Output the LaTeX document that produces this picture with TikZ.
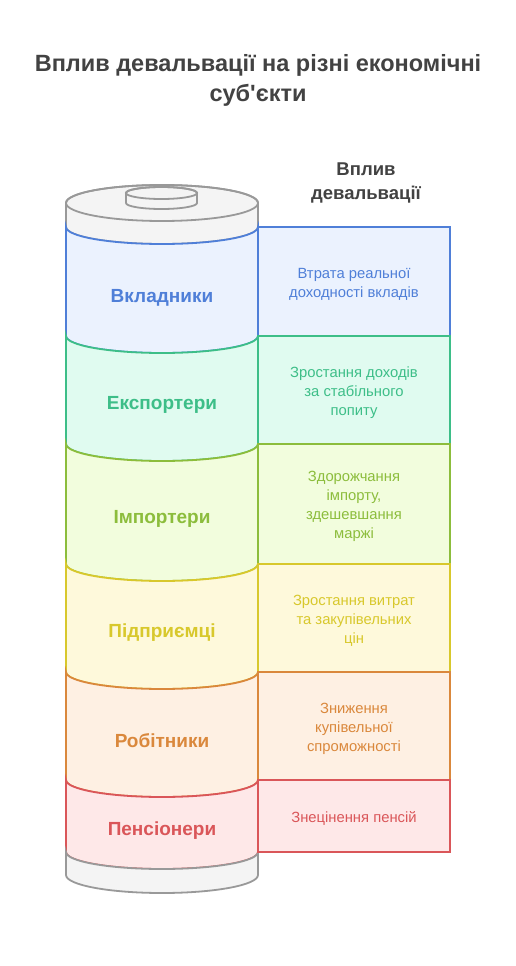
\documentclass[tikz,border=0pt]{standalone}
\usepackage{fontspec}
\setmainfont{Liberation Sans}
\definecolor{cBlueS}{HTML}{4F7FD8}
\definecolor{cBlueF}{HTML}{EBF2FE}
\definecolor{cGreenS}{HTML}{3DBE88}
\definecolor{cGreenF}{HTML}{E0FBF0}
\definecolor{cLimeS}{HTML}{8CBD3C}
\definecolor{cLimeF}{HTML}{F2FDDD}
\definecolor{cYelS}{HTML}{D8C82C}
\definecolor{cYelF}{HTML}{FEF9DB}
\definecolor{cOrS}{HTML}{DA883C}
\definecolor{cOrF}{HTML}{FEF0E3}
\definecolor{cRedS}{HTML}{DA5659}
\definecolor{cRedF}{HTML}{FEE8E8}
\definecolor{cGreyS}{HTML}{999999}
\definecolor{cGreyF}{HTML}{F4F4F4}
\definecolor{cTitle}{HTML}{424242}
\tikzset{
  band/.style={line width=1.8pt},
  boxtext/.style={align=center,font=\fontsize{14.8}{19}\selectfont},
  bandlabel/.style={font=\fontsize{19}{22}\selectfont\bfseries},
}
\newcommand{\cylband}[4]{% top, bottom, stroke, fill
  \filldraw[band,draw=#3,fill=#4] (66,-#1) -- (66,-#2)
    arc[start angle=180,end angle=360,x radius=96,y radius=17]
    -- (258,-#1)
    arc[start angle=0,end angle=-180,x radius=96,y radius=17] -- cycle;
}
\begin{document}
\begin{tikzpicture}[x=1pt,y=1pt]
\useasboundingbox[fill=white] (0,0) rectangle (516,-966);
% title
\node[align=center,text=cTitle,font=\fontsize{23.5}{30}\selectfont\bfseries] (title) at (258,-80)
  {Вплив девальвації на різні економічні\\суб\textquotesingle єкти};
\node[align=center,text=cTitle,font=\fontsize{18.5}{24}\selectfont\bfseries] (head) at (366,-183)
  {Вплив\\девальвації};
% top grey cap
\filldraw[band,draw=cGreyS,fill=cGreyF] (66,-203) -- (66,-227)
  arc[start angle=180,end angle=360,x radius=96,y radius=17]
  -- (258,-203)
  arc[start angle=0,end angle=180,x radius=96,y radius=18] -- cycle;
\draw[band,draw=cGreyS] (162,-203) ellipse[x radius=96,y radius=18];
% small cap
\filldraw[band,draw=cGreyS,fill=cGreyF] (126,-193) -- (126,-203)
  arc[start angle=180,end angle=360,x radius=35.5,y radius=6]
  -- (197,-193)
  arc[start angle=0,end angle=180,x radius=35.5,y radius=6] -- cycle;
\draw[band,draw=cGreyS] (161.5,-193) ellipse[x radius=35.5,y radius=6];
% bands
\cylband{227}{336}{cBlueS}{cBlueF}
\cylband{336}{444}{cGreenS}{cGreenF}
\cylband{444}{564}{cLimeS}{cLimeF}
\cylband{564}{672}{cYelS}{cYelF}
\cylband{672}{780}{cOrS}{cOrF}
\cylband{780}{852}{cRedS}{cRedF}
% bottom grey
\filldraw[band,draw=cGreyS,fill=cGreyF] (66,-852) -- (66,-875)
  arc[start angle=180,end angle=360,x radius=96,y radius=18]
  -- (258,-852)
  arc[start angle=0,end angle=-180,x radius=96,y radius=17] -- cycle;
% band labels
\node[bandlabel,text=cBlueS] (l1) at (162,-298) {Вкладники};
\node[bandlabel,text=cGreenS] (l2) at (162,-405) {Експортери};
\node[bandlabel,text=cLimeS] (l3) at (162,-519) {Імпортери};
\node[bandlabel,text=cYelS] (l4) at (162,-633) {Підприємці};
\node[bandlabel,text=cOrS] (l5) at (162,-741) {Робітники};
\node[bandlabel,text=cRedS] (l6) at (162,-831) {Пенсіонери};
% boxes
\filldraw[band,draw=cBlueS,fill=cBlueF] (258,-227) rectangle (450,-336);
\filldraw[band,draw=cGreenS,fill=cGreenF] (258,-336) rectangle (450,-444);
\filldraw[band,draw=cLimeS,fill=cLimeF] (258,-444) rectangle (450,-564);
\filldraw[band,draw=cYelS,fill=cYelF] (258,-564) rectangle (450,-672);
\filldraw[band,draw=cOrS,fill=cOrF] (258,-672) rectangle (450,-780);
\filldraw[band,draw=cRedS,fill=cRedF] (258,-780) rectangle (450,-852);
% box texts
\node[boxtext,text=cBlueS] (t1) at (354,-284) {Втрата реальної\\доходності вкладів};
\node[boxtext,text=cGreenS] (t2) at (354,-392.5) {Зростання доходів\\за стабільного\\попиту};
\node[boxtext,text=cLimeS] (t3) at (354,-506.5) {Здорожчання\\імпорту,\\здешевшання\\маржі};
\node[boxtext,text=cYelS] (t4) at (354,-620.5) {Зростання витрат\\та закупівельних\\цін};
\node[boxtext,text=cOrS] (t5) at (354,-728.5) {Зниження\\купівельної\\спроможності};
\node[boxtext,text=cRedS] (t6) at (354,-818.5) {Знецінення пенсій};
\end{tikzpicture}
\end{document}
